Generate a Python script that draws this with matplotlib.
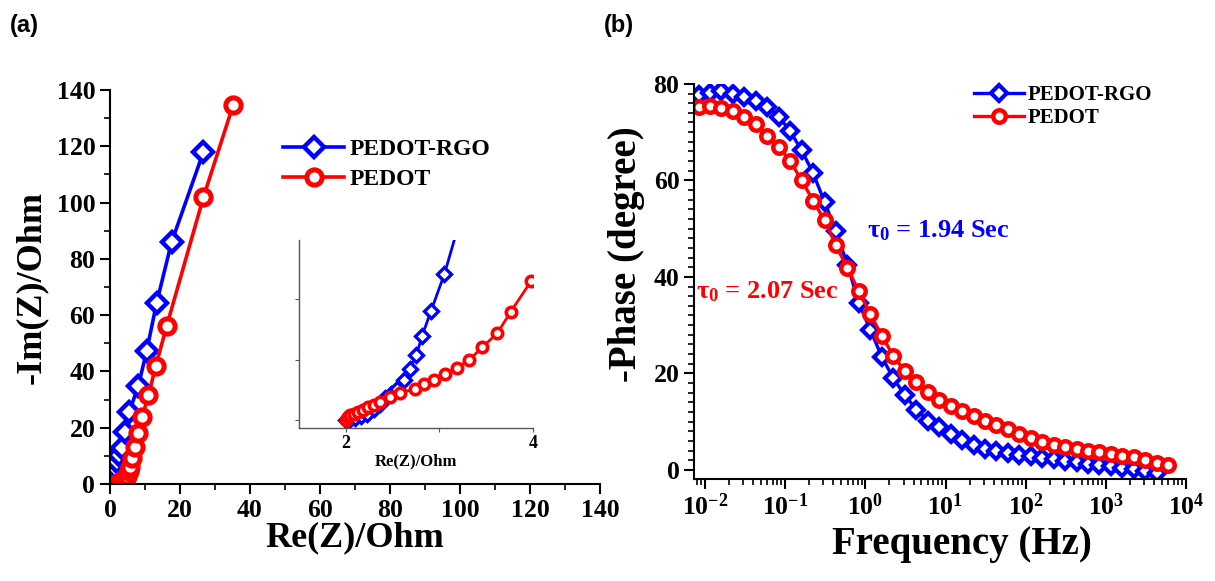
import numpy as np
import matplotlib
matplotlib.use("Agg")
import matplotlib.pyplot as plt
from matplotlib.ticker import MultipleLocator, LogLocator, NullFormatter

plt.rcParams['font.family'] = 'Liberation Serif'
plt.rcParams['font.weight'] = 'bold'
plt.rcParams['mathtext.fontset'] = 'custom'
plt.rcParams['mathtext.rm'] = 'Liberation Serif:bold'
plt.rcParams['mathtext.it'] = 'Liberation Serif:bold'
plt.rcParams['mathtext.bf'] = 'Liberation Serif:bold'

# (a) Nyquist data
rgo_re = [0.3, 0.6, 0.95, 1.4, 1.9, 2.6, 3.3, 4.3, 5.5, 8.1, 10.5, 13.3, 17.6, 26.7]
rgo_im = [0.0, 1.5, 3.8, 5.8, 7.9, 10.3, 12.7, 18.6, 25.5, 34.9, 47.3, 64.2, 85.9, 118.0]
pedot_re = [2.0, 2.5, 3.0, 3.5, 4.0, 4.5, 5.0, 5.4, 5.7, 6.2, 7.1, 8.1, 9.2, 11.0, 13.1, 16.2, 26.7, 35.2]
pedot_im = [0.0, 0.4, 0.8, 1.2, 1.6, 2.2, 3.0, 4.5, 6.2, 9.1, 13.3, 18.0, 23.9, 31.5, 42.0, 56.1, 101.9, 134.7]

# inset (high frequency region)
in_rgo_re = [2.0, 2.05, 2.1, 2.16, 2.225, 2.3, 2.367, 2.42, 2.48, 2.547, 2.617, 2.682, 2.753, 2.814, 2.911, 3.054, 3.2]
in_rgo_im = [0.0, 0.02, 0.04, 0.07, 0.11, 0.18, 0.27, 0.36, 0.44, 0.52, 0.66, 0.84, 1.07, 1.39, 1.81, 2.42, 3.2]
in_pedot_re = [2.0, 2.02, 2.05, 2.09, 2.13, 2.18, 2.24, 2.3, 2.367, 2.475, 2.58, 2.74, 2.84, 2.946, 3.06, 3.19, 3.32, 3.46, 3.62, 3.76, 3.98, 4.1]
in_pedot_im = [0.0, 0.05, 0.08, 0.11, 0.14, 0.17, 0.21, 0.25, 0.30, 0.385, 0.45, 0.52, 0.59, 0.66, 0.76, 0.87, 1.0, 1.21, 1.44, 1.79, 2.3, 2.6]

# (b) Bode phase data
freq = [0.00832, 0.01156, 0.01607, 0.02233, 0.0310, 0.04307, 0.05984, 0.08318, 0.1156, 0.1607,
        0.2233, 0.3100, 0.4307, 0.5984, 0.8318, 1.156, 1.607, 2.233, 3.100, 4.307,
        5.984, 8.318, 11.56, 16.07, 22.33, 31.00, 43.07, 59.84, 83.18, 115.6,
        160.7, 223.3, 310.0, 430.7, 598.4, 831.8, 1156, 1607, 2233, 3100,
        4307, 5984]
phase_rgo = [77.6, 78.2, 78.5, 78.0, 77.3, 76.4, 75.2, 73.2, 70.2, 66.2,
             61.5, 55.5, 49.5, 42.5, 34.5, 29.0, 23.4, 19.0, 15.5, 12.5,
             10.2, 8.8, 7.4, 6.1, 5.1, 4.4, 3.9, 3.5, 3.1, 2.8,
             2.45, 2.2, 1.9, 1.6, 1.2, 0.9, 0.7, 0.45, 0.15, -0.2,
             -0.6]
phase_pedot = [75.2, 75.5, 75.0, 74.3, 73.2, 71.6, 69.3, 67.0, 64.0, 60.0,
               55.8, 51.7, 46.5, 41.8, 37.0, 32.2, 27.8, 23.6, 20.5, 18.1,
               16.1, 14.5, 13.3, 12.2, 11.2, 10.2, 9.3, 8.4, 7.5, 6.5,
               5.8, 5.2, 4.7, 4.3, 3.9, 3.6, 3.3, 2.9, 2.6, 2.0,
               1.5, 0.9]
freq_ticks = [1e-2, 1e-1, 1e0, 1e1, 1e2, 1e3, 1e4]
freq_labels = [r'$10^{-2}$', r'$10^{-1}$', r'$10^{0}$', r'$10^{1}$', r'$10^{2}$', r'$10^{3}$', r'$10^{4}$']

blue = '#0000ff'
red = '#ff0000'

fig = plt.figure(figsize=(12.15, 5.81), dpi=100)

# ---------- panel (a)
ax1 = fig.add_axes([0.0905, 0.167, 0.4033, 0.678])
ax1.plot(rgo_re, rgo_im, '-D', color=blue, lw=2.6, ms=10, mew=3.2, mfc='white', label='PEDOT-RGO')
ax1.plot(pedot_re, pedot_im, '-o', color=red, lw=2.6, ms=11, mew=3.6, mfc='white', label='PEDOT')
ax1.set_xlim(0, 140)
ax1.set_ylim(0, 140)
ax1.xaxis.set_major_locator(MultipleLocator(20))
ax1.yaxis.set_major_locator(MultipleLocator(20))
ax1.xaxis.set_minor_locator(MultipleLocator(10))
ax1.yaxis.set_minor_locator(MultipleLocator(10))
ax1.set_xlabel('Re(Z)/Ohm', fontsize=26, fontweight='bold', labelpad=0)
ax1.set_ylabel('-Im(Z)/Ohm', fontsize=26, fontweight='bold', labelpad=6)
ax1.legend(loc='upper left', bbox_to_anchor=(0.31, 0.93), frameon=False, fontsize=17,
           handlelength=2.6, handletextpad=0.2, labelspacing=0.35)

# inset
axi = fig.add_axes([0.2461, 0.2633, 0.1926, 0.3236])
axi.plot(in_rgo_re, in_rgo_im, '-D', color=blue, lw=2, ms=7, mew=2.4, mfc='white')
axi.plot(in_pedot_re, in_pedot_im, '-o', color=red, lw=2, ms=7.5, mew=2.6, mfc='white')
axi.set_xlim(1.5, 4.0)
axi.set_ylim(-0.13, 2.98)
axi.set_xticks([2, 3, 4])
axi.set_xticklabels(['2', '', '4'])
axi.set_yticks([0, 1, 2])
axi.set_yticklabels([])
axi.set_xlabel('Re(Z)/Ohm', fontsize=12, fontweight='bold', labelpad=1)
for s in ['top', 'right']:
    axi.spines[s].set_visible(False)
for s in ['left', 'bottom']:
    axi.spines[s].set_color('#555555')
    axi.spines[s].set_linewidth(1.0)
axi.tick_params(labelsize=13, length=3, color='#555555', pad=2)
axi.patch.set_alpha(0)

# ---------- panel (b)
ax2 = fig.add_axes([0.5712, 0.1756, 0.405, 0.680])
ax2.semilogx(freq[:len(phase_rgo)], phase_rgo, '-D', color=blue, lw=2.4, ms=8.5, mew=3.0, mfc='white', label='PEDOT-RGO')
ax2.semilogx(freq, phase_pedot, '-o', color=red, lw=2.4, ms=9, mew=3.2, mfc='white', label='PEDOT')
ax2.set_xlim(0.0073, 1e4)
ax2.set_ylim(-1.9, 80)
ax2.set_xticks(freq_ticks)
ax2.set_xticklabels(freq_labels)
ax2.xaxis.set_minor_locator(LogLocator(base=10, subs=np.arange(2, 10), numticks=12))
ax2.xaxis.set_minor_formatter(NullFormatter())
ax2.yaxis.set_major_locator(MultipleLocator(20))
ax2.yaxis.set_minor_locator(MultipleLocator(2))
ax2.set_xlabel('Frequency (Hz)', fontsize=28, fontweight='bold')
ax2.xaxis.set_label_coords(0.545, -0.12)
ax2.set_ylabel('-Phase (degree)', fontsize=28, fontweight='bold')
ax2.yaxis.set_label_coords(-0.10, 0.57)
ax2.legend(loc='upper left', bbox_to_anchor=(0.53, 1.045), frameon=False, fontsize=15,
           handlelength=2.4, handletextpad=0.2, labelspacing=0.15)
ax2.text(1.05, 49.5, r'τ$_0$ = 1.94 Sec', color=blue, fontsize=19, fontweight='bold', va='center')
ax2.text(0.0078, 37.0, r'τ$_0$ = 2.07 Sec', color=red, fontsize=19, fontweight='bold', va='center')

for ax in (ax1, ax2):
    for s in ['top', 'right']:
        ax.spines[s].set_visible(False)
    for s in ['left', 'bottom']:
        ax.spines[s].set_linewidth(1.5)
    ax.tick_params(which='major', labelsize=18.5, length=7, width=1.5, direction='out')
    ax.tick_params(which='minor', length=4, width=1.2, direction='out')

fig.text(0.008, 0.945, '(a)', family='Liberation Sans', fontsize=17, fontweight='bold')
fig.text(0.497, 0.945, '(b)', family='Liberation Sans', fontsize=17, fontweight='bold')

fig.savefig('out.png', dpi=100)
